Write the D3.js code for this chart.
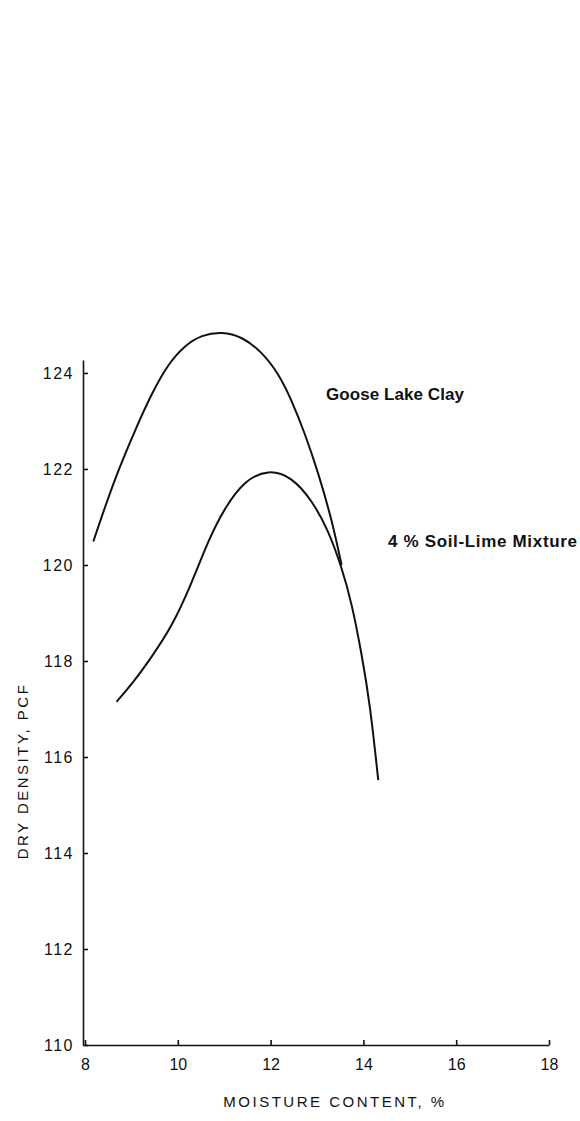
<!DOCTYPE html>
<html lang="en">
<head>
<meta charset="utf-8">
<style>
  body { margin: 0; background: #fff; }
  text { font-family: 'Liberation Sans', Arial, sans-serif; fill: #111; }
</style>
</head>
<body>
<script src="https://d3js.org/d3.v7.min.js"></script>
<script>
    const width = 580;
    const height = 1121;

    // moisture content (%) and dry density (pcf)
    const clayMoisture = [8.18, 8.43, 8.72, 9.08, 9.44, 9.80, 10.16, 10.51, 10.95, 11.38, 11.81, 12.17, 12.45, 12.74, 13.03, 13.32, 13.53];
    const clayDensity  = [120.49, 121.21, 121.98, 122.81, 123.58, 124.20, 124.58, 124.79, 124.86, 124.76, 124.44, 123.99, 123.44, 122.74, 121.91, 120.94, 120.0];

    const limeMoisture = [8.68, 9.08, 9.44, 9.87, 10.30, 10.66, 11.02, 11.45, 11.95, 12.45, 12.89, 13.24, 13.53, 13.75, 13.96, 14.14, 14.32];
    const limeDensity  = [117.15, 117.60, 118.09, 118.71, 119.62, 120.52, 121.21, 121.77, 121.99, 121.84, 121.35, 120.73, 119.96, 119.20, 118.16, 117.12, 115.52];

    const xTicks = [8, 10, 12, 14, 16, 18];
    const yTicks = [110, 112, 114, 116, 118, 120, 122, 124];
    const seriesNames = ["Goose Lake Clay", "4 % Soil-Lime Mixture"];

    var x = d3.scaleLinear().domain([8, 18]).range([85, 549]);
    var y = d3.scaleLinear().domain([110, 124.27]).range([1045, 360]);

    var svg = d3.select("body")
        .append("svg")
        .attr("width", width)
        .attr("height", height);

    // axes - ticks point inward like the original drawing
    var xAxis = svg.append("g")
        .attr("transform", "translate(0," + y(110) + ")")
        .call(d3.axisBottom(x).tickValues(xTicks).tickSize(-5).tickSizeOuter(0).tickPadding(14));

    var yAxis = svg.append("g")
        .attr("transform", "translate(" + (x(8) - 2) + ",0)")
        .call(d3.axisLeft(y).tickValues(yTicks).tickSize(-5).tickSizeOuter(0).tickPadding(9));

    svg.selectAll(".domain, .tick line")
        .attr("stroke", "#111")
        .attr("stroke-width", 1.6);

    xAxis.selectAll("text")
        .style("font-size", "16px")
        .attr("fill", "#111");

    yAxis.selectAll("text")
        .style("font-size", "16px")
        .style("letter-spacing", "1.5px")
        .attr("fill", "#111");

    // curves
    var line = d3.line()
        .x(function (d) { return x(d[0]); })
        .y(function (d) { return y(d[1]); })
        .curve(d3.curveBasis);

    var clay = d3.zip(clayMoisture, clayDensity);
    var lime = d3.zip(limeMoisture, limeDensity);

    svg.selectAll("path.curve")
        .data([clay, lime])
        .enter()
        .append("path")
        .attr("class", "curve")
        .attr("d", line)
        .attr("fill", "none")
        .attr("stroke", "#111")
        .attr("stroke-width", 2);

    // labels
    svg.append("text")
        .attr("x", 326)
        .attr("y", 400)
        .attr("textLength", 138)
        .attr("lengthAdjust", "spacing")
        .style("font-size", "17px")
        .style("font-weight", "bold")
        .text(seriesNames[0]);

    svg.append("text")
        .attr("x", 388)
        .attr("y", 547)
        .attr("textLength", 189)
        .attr("lengthAdjust", "spacing")
        .style("font-size", "17px")
        .style("font-weight", "bold")
        .text(seriesNames[1]);

    svg.append("text")
        .attr("x", 335)
        .attr("y", 1107)
        .attr("text-anchor", "middle")
        .style("font-size", "15px")
        .style("letter-spacing", "2.5px")
        .text("MOISTURE CONTENT, %");

    svg.append("text")
        .attr("transform", "translate(28,771) rotate(-90)")
        .attr("text-anchor", "middle")
        .style("font-size", "15px")
        .style("letter-spacing", "2.5px")
        .text("DRY DENSITY, PCF");
</script>
</body>
</html>
